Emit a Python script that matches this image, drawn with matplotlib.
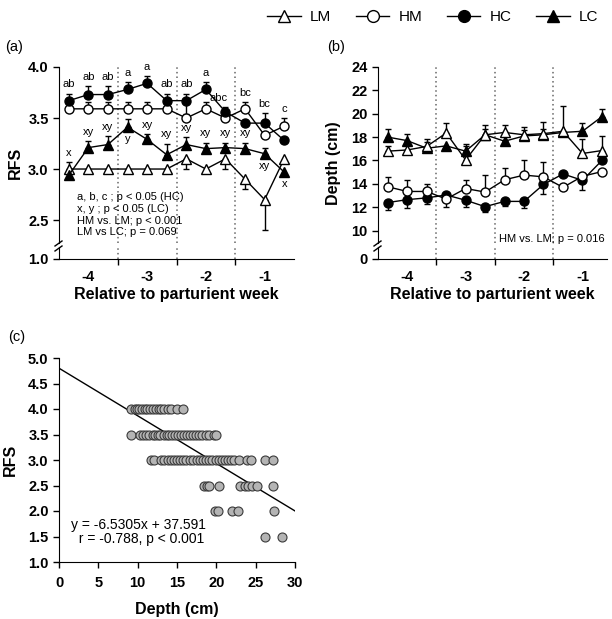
import numpy as np
import matplotlib.pyplot as plt
from matplotlib.lines import Line2D

plt.rcParams['font.family'] = ['Liberation Sans', 'DejaVu Sans']

# x positions: three measurements per week relative to parturition
weeks = [-4, -3, -2, -1]
x_pts = [-4.333, -4.0, -3.667, -3.333, -3.0, -2.667, -2.333, -2.0, -1.667, -1.333, -1.0, -0.667]
week_bounds = [-3.5, -2.5, -1.5]

# ---- panel (a): RFS ----
rfs_lm = [3.0, 3.0, 3.0, 3.0, 3.0, 3.0, 3.1, 3.0, 3.1, 2.9, 2.7, 3.1]
rfs_lm_up = [0.07, 0, 0, 0, 0, 0, 0, 0, 0, 0, 0, 0]
rfs_lm_lo = [0, 0, 0, 0, 0, 0, 0.1, 0, 0.1, 0.1, 0.3, 0]

rfs_hm = [3.59, 3.59, 3.59, 3.59, 3.59, 3.59, 3.5, 3.59, 3.5, 3.59, 3.33, 3.42]
rfs_hm_up = [0.07, 0.07, 0.07, 0.07, 0.07, 0.07, 0, 0.07, 0, 0.07, 0, 0.08]
rfs_hm_lo = [0] * 12

rfs_hc = [3.67, 3.73, 3.73, 3.78, 3.84, 3.67, 3.67, 3.78, 3.56, 3.45, 3.45, 3.28]
rfs_hc_up = [0.07, 0.08, 0.08, 0.07, 0.07, 0.07, 0.07, 0.07, 0.05, 0, 0.1, 0]
rfs_hc_lo = [0, 0, 0, 0, 0, 0, 0.13, 0, 0, 0, 0, 0]

rfs_lc = [2.94, 3.21, 3.24, 3.41, 3.29, 3.14, 3.24, 3.2, 3.21, 3.2, 3.15, 2.97]
rfs_lc_up = [0, 0.06, 0.08, 0.08, 0.05, 0.11, 0.07, 0.06, 0.05, 0.06, 0.06, 0]
rfs_lc_lo = [0] * 12

hc_letters = ['ab', 'ab', 'ab', 'a', 'a', 'ab', 'ab', 'a', 'abc', 'bc', 'bc', 'c']
lc_letters = ['x', 'xy', 'xy', 'y', 'xy', 'xy', 'xy', 'xy', 'xy', 'xy', 'xy', 'x']
lc_letter_below = [False, False, False, True, False, False, False, False, False, False, True, True]

# ---- panel (b): depth (cm) ----
dep_lm = [16.8, 16.9, 17.2, 18.35, 16.05, 18.2, 18.4, 18.2, 18.3, 18.5, 16.6, 16.85]
dep_lm_up = [0.4, 0.4, 0.6, 0.9, 1.15, 0.8, 0.6, 0.65, 1.0, 2.2, 1.2, 1.25]
dep_lm_lo = [0] * 12

dep_hm = [13.75, 13.35, 13.35, 12.7, 13.6, 13.3, 14.35, 14.75, 14.6, 13.7, 14.65, 15.05]
dep_hm_up = [0.85, 1.0, 0.65, 0, 0.75, 1.45, 1.05, 1.25, 1.3, 0, 0, 0]
dep_hm_lo = [0, 0, 0, 0.65, 0, 0, 0, 0, 0, 0, 0, 0]

dep_hc = [12.4, 12.65, 12.8, 13.05, 12.6, 12.05, 12.5, 12.5, 13.95, 14.85, 14.3, 16.0]
dep_hc_up = [0] * 12
dep_hc_lo = [0.6, 0.75, 0.5, 0, 0.55, 0.45, 0.4, 0.6, 0.85, 0, 0.8, 0]

dep_lc = [18.0, 17.7, 17.05, 17.25, 16.8, 18.2, 17.65, 18.1, 18.2, 18.4, 18.5, 19.75]
dep_lc_up = [0.7, 0.55, 0.5, 0, 0.6, 0.5, 0.5, 0.5, 0.5, 0, 0.75, 0.65]
dep_lc_lo = [0] * 12

# ---- panel (c): RFS vs depth ----
sc_depth_40 = [9.2, 9.6, 9.9, 10.2, 10.5, 10.9, 11.2, 11.6, 11.9, 12.3, 12.7, 13.0, 13.4, 13.8, 14.2, 15.0, 15.8]
sc_depth_35 = [9.1, 10.3, 10.7, 11.1, 11.5, 11.9, 12.2, 12.6, 12.9, 13.3, 13.7, 14.0, 14.4, 14.8, 15.1, 15.5,
               15.9, 16.3, 16.7, 17.0, 17.4, 17.8, 18.2, 18.7, 19.1, 19.7, 20.0]
sc_depth_30 = [11.7, 12.1, 13.0, 13.4, 13.8, 14.2, 14.6, 15.0, 15.4, 15.8, 16.2, 16.6, 17.0, 17.5, 17.9, 18.3,
               18.7, 19.1, 19.5, 19.9, 20.3, 20.7, 21.1, 21.5, 21.9, 22.3, 22.9, 23.9, 24.4, 26.2, 27.2]
sc_depth_25 = [18.4, 18.8, 19.1, 20.4, 23.0, 23.6, 24.0, 24.5, 25.2, 27.2]
sc_depth_20 = [19.8, 20.2, 22.0, 22.8, 27.3]
sc_depth_15 = [26.2, 28.3]
sc_levels = [4.0, 3.5, 3.0, 2.5, 2.0, 1.5]
fit_intercept = 4.8
fit_slope = -0.0933

W, H = 612, 619
fig = plt.figure(figsize=(W / 100, H / 100), dpi=100)


def axes_px(left, top, right, bottom):
    return fig.add_axes([left / W, 1 - bottom / H, (right - left) / W, (bottom - top) / H])


def style_axis(ax):
    for s in ['top', 'right']:
        ax.spines[s].set_visible(False)
    ax.tick_params(direction='out', length=4, width=1, labelsize=10.5)
    for lab in ax.get_yticklabels() + ax.get_xticklabels():
        lab.set_fontweight('bold')


def draw_series(ax, y, lo, up, marker, fill, ms):
    x = np.array(x_pts)
    y = np.array(y)
    lo = np.array(lo)
    up = np.array(up)
    m = up > 0
    ax.errorbar(x[m], y[m], yerr=[np.zeros(m.sum()), up[m]], fmt='none', ecolor='k',
                elinewidth=1, capsize=2.5, capthick=1, zorder=2)
    m = lo > 0
    ax.errorbar(x[m], y[m], yerr=[lo[m], np.zeros(m.sum())], fmt='none', ecolor='k',
                elinewidth=1, capsize=2.5, capthick=1, zorder=2)
    ax.plot(x, y, '-', color='k', lw=1, marker=marker, mfc=fill, mec='k', ms=ms, mew=1, zorder=3)


def broken_panel(top_box, bot_box, ylim_top, ylim_bot, yticks_top, ytick_bot, xlim, ylabel, fmt):
    ax = axes_px(*top_box)
    axb = axes_px(*bot_box)
    ax.set_xlim(*xlim)
    axb.set_xlim(*xlim)
    ax.set_ylim(*ylim_top)
    axb.set_ylim(*ylim_bot)
    ax.set_yticks(yticks_top)
    ax.set_yticklabels([fmt.format(v) for v in yticks_top])
    axb.set_yticks([ytick_bot])
    axb.set_yticklabels([fmt.format(ytick_bot)])
    ax.spines['bottom'].set_visible(False)
    ax.tick_params(axis='x', bottom=False, labelbottom=False)
    axb.spines['top'].set_visible(False)
    axb.set_xticks(week_bounds)
    axb.set_xticklabels([])
    axb.set_xticks(weeks, minor=True)
    axb.set_xticklabels([str(w) for w in weeks], minor=True)
    axb.tick_params(axis='x', which='minor', length=0, pad=8)
    for a in (ax, axb):
        a.patch.set_alpha(0)
        style_axis(a)
        for xb in week_bounds:
            a.axvline(xb, color='0.4', ls=(0, (1, 2)), lw=1.1, zorder=1)
    for lab in axb.get_xticklabels(minor=True):
        lab.set_fontweight('bold')
        lab.set_fontsize(10.5)
    # break marks on the y axis
    xl = top_box[0]
    yb = top_box[3]
    for dy in (0, 5):
        fig.add_artist(Line2D([(xl - 4) / W, (xl + 3) / W],
                              [1 - (yb + 3 + dy) / H, 1 - (yb - 2 + dy) / H],
                              color='k', lw=1))
    axb.set_xlabel('Relative to parturient week', fontsize=11.5, fontweight='bold', labelpad=2)
    fig.text((xl - 44) / W, 1 - ((top_box[1] + bot_box[3]) / 2) / H, ylabel, rotation=90,
             ha='center', va='center', fontsize=11.5, fontweight='bold')
    return ax, axb


# ---------- (a) ----------
axa, axa_b = broken_panel((59, 67, 294, 243), (59, 247, 294, 259), (2.275, 4.0), (1.0, 1.12),
                          [2.5, 3.0, 3.5, 4.0], 1.0, (-4.5, -0.5), 'RFS', '{:.1f}')
draw_series(axa, rfs_lm, rfs_lm_lo, rfs_lm_up, '^', 'white', 7)
draw_series(axa, rfs_lc, rfs_lc_lo, rfs_lc_up, '^', 'black', 7)
draw_series(axa, rfs_hm, rfs_hm_lo, rfs_hm_up, 'o', 'white', 6.5)
draw_series(axa, rfs_hc, rfs_hc_lo, rfs_hc_up, 'o', 'black', 6.5)
for i, x in enumerate(x_pts):
    tops = [rfs_lm[i] + rfs_lm_up[i], rfs_hm[i] + rfs_hm_up[i], rfs_hc[i] + rfs_hc_up[i]]
    dx = -0.12 if hc_letters[i] == 'abc' else 0
    axa.text(x + dx, max(tops) + 0.09, hc_letters[i], ha='center', va='center', fontsize=8)
    if lc_letter_below[i]:
        ty = rfs_lc[i] - 0.12
    else:
        ty = max(rfs_lc[i] + rfs_lc_up[i], rfs_lm[i] + rfs_lm_up[i]) + 0.09
    axa.text(x, ty, lc_letters[i], ha='center', va='center', fontsize=8)
axa.text(-4.2, 2.77, 'a, b, c ; p < 0.05 (HC)\nx, y ; p < 0.05 (LC)\nHM vs. LM; p < 0.001\nLM vs LC; p = 0.069',
         ha='left', va='top', fontsize=8, linespacing=1.2)
fig.text(5 / W, 1 - 47 / H, '(a)', fontsize=10.5, va='center')

# ---------- (b) ----------
axb_t, axb_b = broken_panel((378, 67, 607, 243), (378, 247, 607, 259), (8.94, 24), (0, 1.2),
                            [10, 12, 14, 16, 18, 20, 22, 24], 0, (-4.5, -0.58), 'Depth (cm)', '{:.0f}')
draw_series(axb_t, dep_hc, dep_hc_lo, dep_hc_up, 'o', 'black', 6.5)
draw_series(axb_t, dep_hm, dep_hm_lo, dep_hm_up, 'o', 'white', 6.5)
draw_series(axb_t, dep_lc, dep_lc_lo, dep_lc_up, '^', 'black', 7)
draw_series(axb_t, dep_lm, dep_lm_lo, dep_lm_up, '^', 'white', 7)
axb_t.text(-0.62, 9.3, 'HM vs. LM; p = 0.016', ha='right', va='center', fontsize=8)
fig.text(327 / W, 1 - 47 / H, '(b)', fontsize=10.5, va='center')

# ---------- (c) ----------
axc = axes_px(59, 358, 295, 562)
style_axis(axc)
sc_groups = [sc_depth_40, sc_depth_35, sc_depth_30, sc_depth_25, sc_depth_20, sc_depth_15]
for lev, deps in zip(sc_levels, sc_groups):
    axc.scatter(deps, [lev] * len(deps), s=42, c='#b4b4b4', edgecolors='#3a3a3a', linewidths=0.8, zorder=3)
xf = np.array([0, 30])
axc.plot(xf, fit_intercept + fit_slope * xf, color='k', lw=1, zorder=2)
axc.set_xlim(0, 30)
axc.set_ylim(1.0, 5.0)
axc.set_xticks(np.arange(0, 31, 5))
axc.set_yticks(np.arange(1.0, 5.01, 0.5))
axc.set_yticklabels(['{:.1f}'.format(v) for v in np.arange(1.0, 5.01, 0.5)])
for lab in axc.get_yticklabels() + axc.get_xticklabels():
    lab.set_fontweight('bold')
    lab.set_fontsize(10.5)
axc.tick_params(axis='x', pad=6)
axc.set_xlabel('Depth (cm)', fontsize=11.5, fontweight='bold', labelpad=9)
axc.set_ylabel('RFS', fontsize=11.5, fontweight='bold', labelpad=7)
axc.text(1.5, 1.58, 'y = -6.5305x + 37.591\n  r = -0.788, p < 0.001', ha='left', va='center',
         fontsize=10, linespacing=1.0)
fig.text(8 / W, 1 - 337 / H, '(c)', fontsize=10.5, va='center')

# ---------- legend ----------
handles = [
    Line2D([], [], color='k', lw=1, marker='^', mfc='white', mec='k', ms=9),
    Line2D([], [], color='k', lw=1, marker='o', mfc='white', mec='k', ms=8.5),
    Line2D([], [], color='k', lw=1, marker='o', mfc='black', mec='k', ms=8.5),
    Line2D([], [], color='k', lw=1, marker='^', mfc='black', mec='k', ms=9),
]
fig.legend(handles, ['LM', 'HM', 'HC', 'LC'], ncol=4, loc='center right', bbox_to_anchor=(1.0, 1 - 17 / H),
           frameon=False, fontsize=11, handlelength=2.2, columnspacing=1.6, handletextpad=0.6)

fig.savefig('out.png', dpi=100)
